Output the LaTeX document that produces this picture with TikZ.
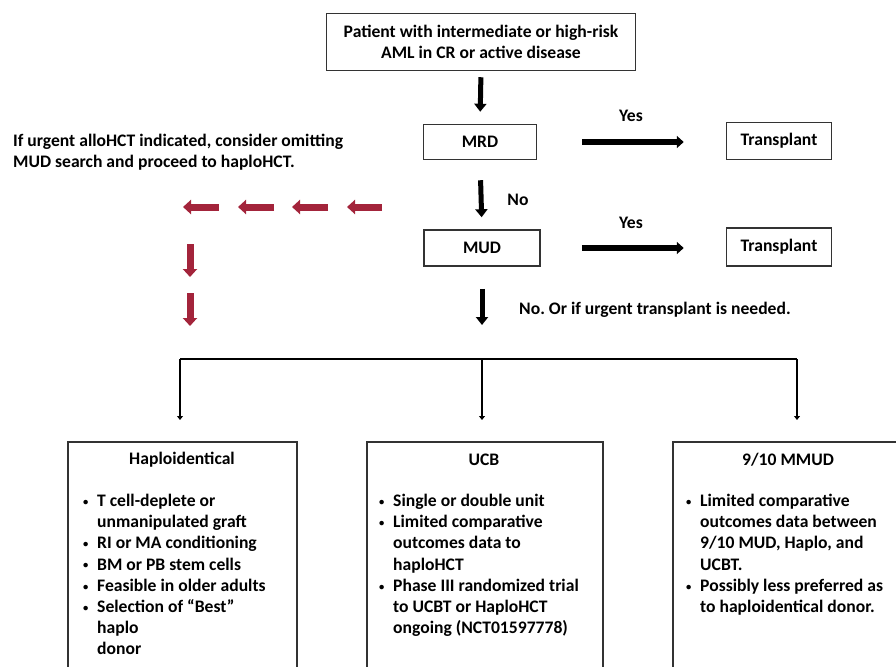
\documentclass[tikz,border=0pt]{standalone}
\usepackage{fontspec}
\usepackage{graphicx}
\setmainfont{Carlito}
\usetikzlibrary{arrows.meta}
\frenchspacing
\definecolor{arrred}{HTML}{A3243B}
\definecolor{boxline}{HTML}{333333}
\tikzset{
  every node/.style={font=\bfseries\fontsize{17.6}{21.2}\selectfont, inner sep=0pt},
  box/.style={draw=boxline, line width=1.5pt, rectangle},
  bigarrow/.style={line width=5pt, -{Triangle[width=12pt,length=8pt]}},
  sidearrow/.style={line width=6pt, -{Triangle[width=12pt,length=7pt]}},
  redarrow/.style={arrred, line width=7pt, -{Triangle[width=14pt,length=8pt]}},
  branch/.style={line width=2.5pt},
  brancharrow/.style={line width=2.5pt, -{Triangle[width=6pt,length=4pt]}},
  plain/.style={align=left},
}
\newcommand{\bl}{\makebox[15pt][l]{\hspace*{1pt}\raisebox{0.15ex}{\scalebox{0.6}{•}}}}
\newcommand{\ind}{\hspace*{15pt}}
\begin{document}
\begin{tikzpicture}[x=1pt,y=-1pt]
\useasboundingbox (0,0) rectangle (896,666);
\clip (0,0) rectangle (896,666);

\node[box, minimum width=309pt, minimum height=57pt, align=center] (top) at (481,42)
  {Patient with intermediate or high-risk\\AML in CR or active disease};
\node[box, minimum width=113pt, minimum height=35pt] (mrd) at (480,142) {MRD};
\node[box, minimum width=105pt, minimum height=37pt] (tp1) at (779,141) {Transplant};
\node[box, minimum width=116pt, minimum height=36pt] (mud) at (482,248) {MUD};
\node[box, minimum width=105pt, minimum height=38pt] (tp2) at (779,247) {Transplant};

\node[plain, anchor=west] (note) at (13,152)
  {If urgent alloHCT indicated, consider omitting\\MUD search and proceed to haploHCT.};
\node (yes1) at (631,116) {Yes};
\node (yes2) at (631,223) {Yes};
\node (no1) at (518,200) {No};
\node[anchor=west] (no2) at (519,310) {No. Or if urgent transplant is needed.};

\draw[bigarrow, shorten <=6pt, shorten >=12pt] (top.south) -- (mrd.north);
\draw[bigarrow, shorten <=20pt, shorten >=12pt] (mrd.south) -- (mud.north);
\draw[sidearrow, shorten <=45pt, shorten >=42pt] (mrd.east) -- (mrd.east -| tp1.west);
\draw[sidearrow, shorten <=41pt, shorten >=42pt] (mud.east) -- (mud.east -| tp2.west);

\coordinate (split) at (482,325);
\draw[bigarrow, shorten <=22pt] (mud.south) -- (split);

% bottom boxes
\node[box, minimum width=229pt, minimum height=260pt, anchor=north west] (haplo) at (67,441) {};
\node[box, minimum width=236pt, minimum height=260pt, anchor=north west] (ucb) at (366,441) {};
\node[box, minimum width=240pt, minimum height=260pt, anchor=north west] (mmud) at (672,441) {};

\coordinate (hj) at (180,359);
\coordinate (uj) at (482,359);
\coordinate (mj) at (797,359);
\draw[branch] (hj) -- (mj);
\draw[brancharrow, shorten >=21pt] (hj) -- (hj |- haplo.north);
\draw[brancharrow, shorten >=21pt] (uj) -- (uj |- ucb.north);
\draw[brancharrow, shorten >=21pt] (mj) -- (mj |- mmud.north);

\node (hh) at (182,460) {Haploidentical};
\node (uh) at (484,460) {UCB};
\node (mh) at (788,460) {9/10 MMUD};

\node[plain, anchor=north west] (hl) at (82,494)
  {\bl T cell-deplete or\\
   \ind unmanipulated graft\\
   \bl RI or MA conditioning\\
   \bl BM or PB stem cells\\
   \bl Feasible in older adults\\
   \bl Selection of “Best”\\
   \ind haplo\\
   \ind donor};
\node[plain, anchor=north west] (ul) at (378,494)
  {\bl Single or double unit\\
   \bl Limited comparative\\
   \ind outcomes data to\\
   \ind haploHCT\\
   \bl Phase III randomized trial\\
   \ind to UCBT or HaploHCT\\
   \ind ongoing (NCT01597778)};
\node[plain, anchor=north west] (ml) at (685,494)
  {\bl Limited comparative\\
   \ind outcomes data between\\
   \ind 9/10 MUD, Haplo, and\\
   \ind UCBT.\\
   \bl Possibly less preferred as\\
   \ind to haploidentical donor.};

% red dashed path arrows
\coordinate (r1) at (382,207); \coordinate (r1e) at (347,207);
\coordinate (r2) at (328,207); \coordinate (r2e) at (292,207);
\coordinate (r3) at (274,207); \coordinate (r3e) at (238,207);
\coordinate (r4) at (219,207); \coordinate (r4e) at (183,207);
\draw[redarrow] (r1) -- (r1e);
\draw[redarrow] (r2) -- (r2e);
\draw[redarrow] (r3) -- (r3e);
\draw[redarrow] (r4) -- (r4e);
\coordinate (d1) at (190,244); \coordinate (d1e) at (190,277);
\coordinate (d2) at (190,293); \coordinate (d2e) at (190,326);
\draw[redarrow] (d1) -- (d1e);
\draw[redarrow] (d2) -- (d2e);
\end{tikzpicture}
\end{document}
